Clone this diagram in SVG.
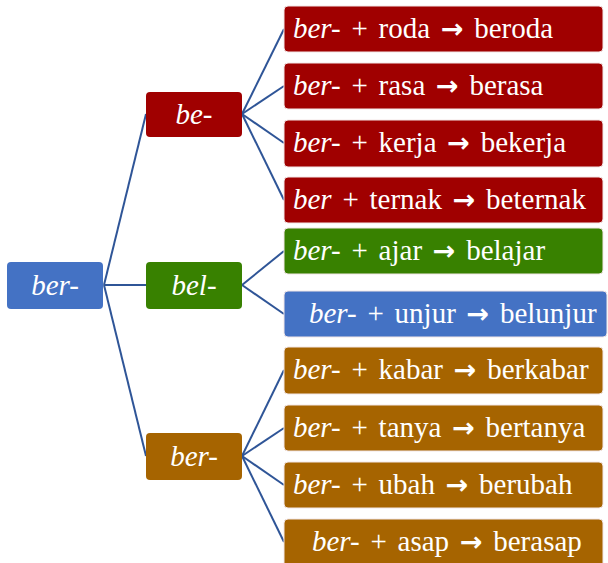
<svg xmlns="http://www.w3.org/2000/svg" width="608" height="563" viewBox="0 0 608 563" xml:space="preserve">
<style>
.t{font-family:"Liberation Serif","Times New Roman",serif;font-size:29px;fill:#fff}
.w{word-spacing:3.5px}
.c{text-anchor:middle}
.i{font-style:italic}
.a{font-family:"DejaVu Sans",sans-serif;font-weight:bold;font-size:27px}
.red{fill:#A00000}
.grn{fill:#388100}
.blu{fill:#4472C4}
.brn{fill:#A66400}
.leaf{stroke:#f2e6e6;stroke-width:1}
#connectors line{stroke:#2F5597;stroke-width:2}
</style>
<rect width="608" height="563" fill="#fff"/>
<g id="connectors">
<line x1="104" y1="285" x2="146" y2="114"/>
<line x1="104" y1="285" x2="146" y2="285"/>
<line x1="104" y1="285" x2="146" y2="456"/>
<line x1="242" y1="114" x2="284" y2="29"/>
<line x1="242" y1="114" x2="284" y2="86"/>
<line x1="242" y1="114" x2="284" y2="143"/>
<line x1="242" y1="114" x2="284" y2="200"/>
<line x1="242" y1="285" x2="284" y2="251"/>
<line x1="242" y1="285" x2="284" y2="314"/>
<line x1="242" y1="456" x2="284" y2="370"/>
<line x1="242" y1="456" x2="284" y2="428"/>
<line x1="242" y1="456" x2="284" y2="485"/>
<line x1="242" y1="456" x2="284" y2="542"/>
</g>
<g id="root"><rect class="blu" x="7" y="262" width="96" height="47" rx="4"/><text class="t c i" x="55" y="295">ber-</text></g>
<g id="be"><rect class="red" x="146" y="92" width="96" height="45" rx="4"/><text class="t c i" x="194" y="124">be-</text></g>
<g id="bel"><rect class="grn" x="146" y="262" width="96" height="47" rx="4"/><text class="t c i" x="194" y="295">bel-</text></g>
<g id="berm"><rect class="brn" x="146" y="433" width="96" height="47" rx="4"/><text class="t c i" x="194" y="466">ber-</text></g>

<g id="n1"><rect class="red leaf" x="284" y="6" width="319" height="46" rx="4"/><text class="t w" x="293" y="38"><tspan class="i">ber-</tspan> + roda <tspan class="a">→</tspan> beroda</text></g>
<g id="n2"><rect class="red leaf" x="284" y="63" width="319" height="46" rx="4"/><text class="t w" x="293" y="95"><tspan class="i">ber-</tspan> + rasa <tspan class="a">→</tspan> berasa</text></g>
<g id="n3"><rect class="red leaf" x="284" y="120" width="319" height="47" rx="4"/><text class="t w" x="293" y="152"><tspan class="i">ber-</tspan> + kerja <tspan class="a">→</tspan> bekerja</text></g>
<g id="n4"><rect class="red leaf" x="284" y="177" width="319" height="46" rx="4"/><text class="t w" x="293" y="209"><tspan class="i">ber</tspan> + ternak <tspan class="a">→</tspan> beternak</text></g>
<g id="n5"><rect class="grn leaf" x="284" y="228" width="319" height="46" rx="4"/><text class="t w" x="293" y="260"><tspan class="i">ber-</tspan> + ajar <tspan class="a">→</tspan>  belajar</text></g>
<g id="n6"><rect class="blu leaf" x="284" y="291" width="323" height="46" rx="4"/><text class="t w" x="309" y="323"><tspan class="i">ber-</tspan> + unjur <tspan class="a">→</tspan> belunjur</text></g>
<g id="n7"><rect class="brn leaf" x="284" y="347" width="319" height="47" rx="4"/><text class="t w" x="293" y="379"><tspan class="i">ber-</tspan> + kabar <tspan class="a">→</tspan>  berkabar</text></g>
<g id="n8"><rect class="brn leaf" x="284" y="405" width="319" height="46" rx="4"/><text class="t w" x="293" y="437"><tspan class="i">ber-</tspan> + tanya <tspan class="a">→</tspan>  bertanya</text></g>
<g id="n9"><rect class="brn leaf" x="284" y="462" width="319" height="46" rx="4"/><text class="t w" x="293" y="494"><tspan class="i">ber-</tspan> + ubah <tspan class="a">→</tspan>  berubah</text></g>
<g id="n10"><rect class="brn leaf" x="284" y="519" width="319" height="50" rx="4"/><text class="t w" x="312" y="551"><tspan class="i">ber-</tspan> + asap <tspan class="a">→</tspan>  berasap</text></g>
</svg>
